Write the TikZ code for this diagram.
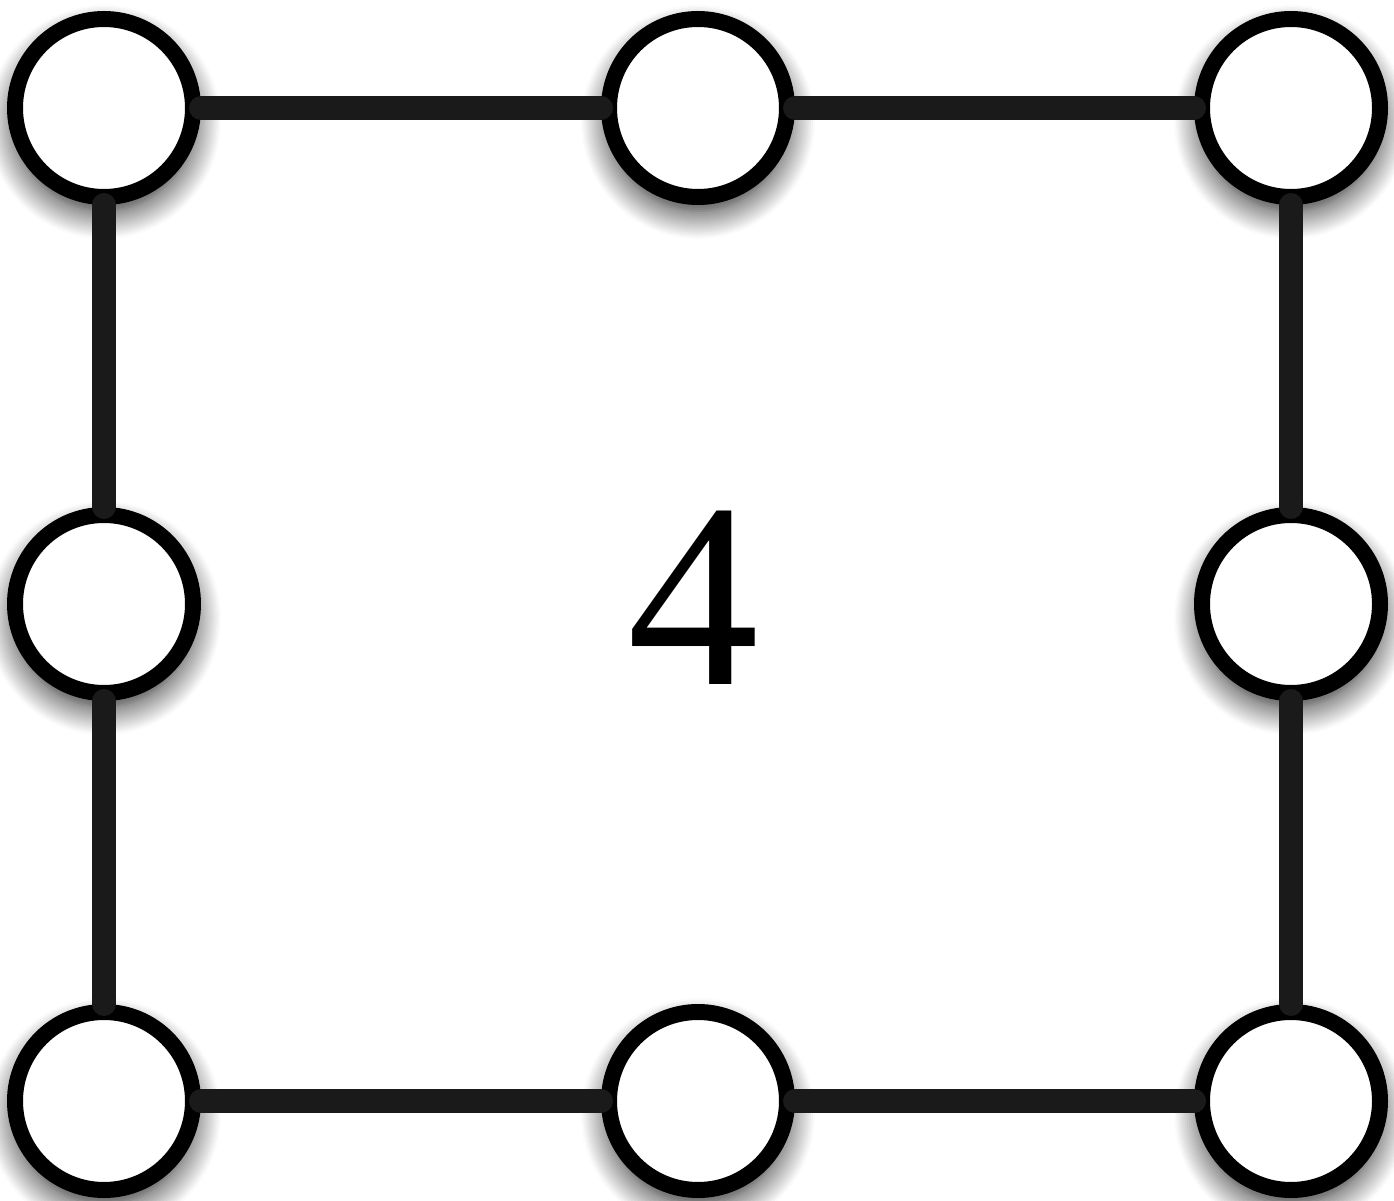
\documentclass[tikz,border=0pt]{standalone}
\usepackage{fontspec}
\setmainfont{Liberation Serif}
\usetikzlibrary{shadows.blur}
\definecolor{edgegray}{RGB}{26,26,26}
\tikzset{
  vert/.style={circle, draw=black, fill=white, line width=0.16cm, minimum size=1.78cm, inner sep=0pt,
    blur shadow={shadow xshift=0cm, shadow yshift=-0.14cm, shadow blur radius=0.28cm, shadow opacity=90, shadow blur steps=14}},
  edgeline/.style={draw=edgegray, line width=0.24cm, line cap=round}
}
\begin{document}
\begin{tikzpicture}
\useasboundingbox (0,0) rectangle (13.94,12);
\node[vert] (a) at (1.04,10.92) {};
\node[vert] (b) at (6.98,10.92) {};
\node[vert] (c) at (12.91,10.92) {};
\node[vert] (d) at (1.04,5.96) {};
\node[vert] (f) at (12.91,5.96) {};
\node[vert] (g) at (1.04,0.99) {};
\node[vert] (h) at (6.98,0.99) {};
\node[vert] (i) at (12.91,0.99) {};
\draw[edgeline] (a) -- (b);
\draw[edgeline] (b) -- (c);
\draw[edgeline] (g) -- (h);
\draw[edgeline] (h) -- (i);
\draw[edgeline] (a) -- (d);
\draw[edgeline] (d) -- (g);
\draw[edgeline] (c) -- (f);
\draw[edgeline] (f) -- (i);
\node[inner sep=0pt] (lbl) at (6.93,6.02) {\fontsize{75}{75}\selectfont 4};
\end{tikzpicture}
\end{document}
